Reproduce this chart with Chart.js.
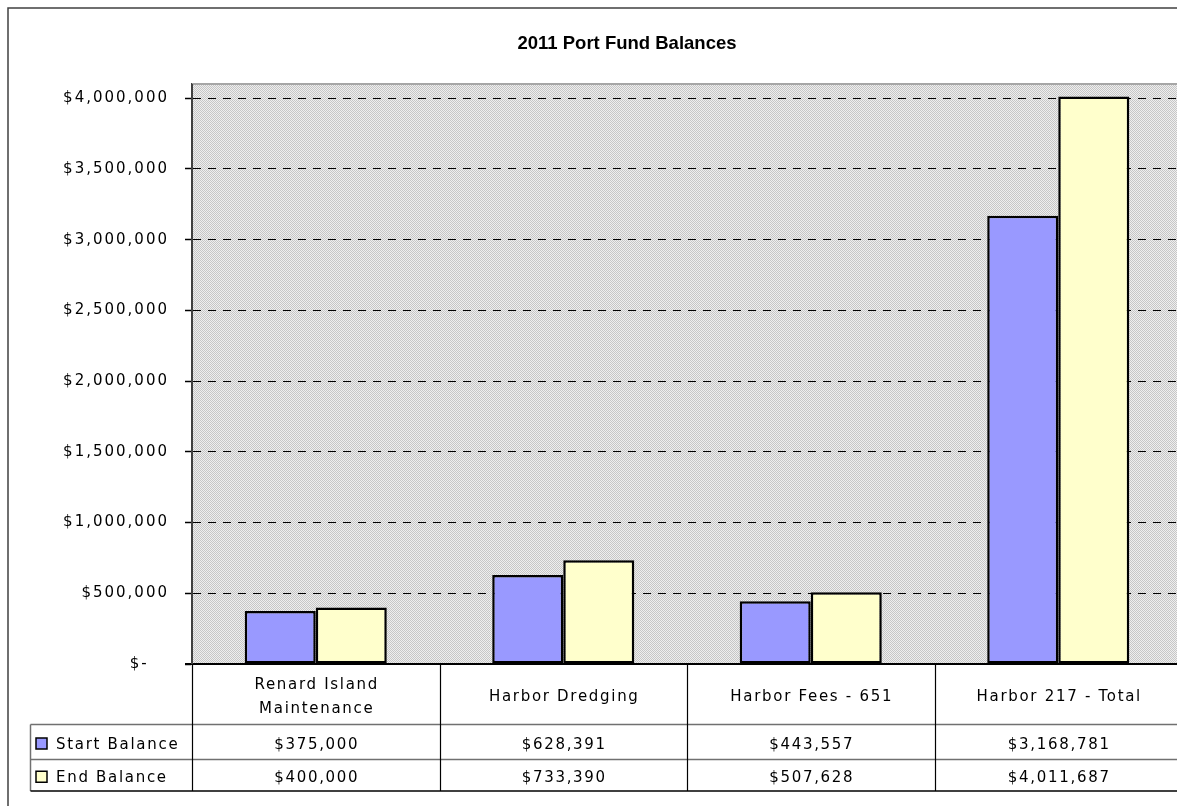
<!DOCTYPE html>
<html><head><meta charset="utf-8">
<script src="https://cdn.jsdelivr.net/npm/chart.js@4/dist/chart.umd.min.js"></script>
<style>
html,body{margin:0;padding:0;background:#fff;overflow:hidden;width:1177px;height:806px}
#wrap{position:absolute;left:0;top:0;width:1200px;height:806px}
</style>
</head><body><div id="wrap"><canvas id="c" width="1200" height="806"></canvas></div>
<script>
const chartTitle = '2011 Port Fund Balances';
const categories = [['Renard Island', 'Maintenance'], ['Harbor Dredging'], ['Harbor Fees - 651'], ['Harbor 217 - Total']];
const seriesNames = ['Start Balance', 'End Balance'];
const startBalance = [375000, 628391, 443557, 3168781];
const endBalance = [400000, 733390, 507628, 4011687];
const seriesColors = ['#9999FF', '#FFFFCC'];
const yTickValues = [0, 500000, 1000000, 1500000, 2000000, 2500000, 3000000, 3500000, 4000000];
const yMax = 4100000;

const FONT_FAMILY = '"DejaVu Sans"';
const FONT = '15px ' + FONT_FAMILY;
const money = v => '$' + Math.round(v).toLocaleString('en-US');

const patCanvas = (() => {
  const c = document.createElement('canvas'); c.width = 2; c.height = 2;
  const g = c.getContext('2d');
  g.fillStyle = '#eeeeee'; g.fillRect(0, 0, 2, 2);
  g.fillStyle = '#c6c6c6'; g.fillRect(0, 0, 1, 1); g.fillRect(1, 1, 1, 1);
  return c;
})();

const seriesData = [startBalance, endBalance];

const excelPlugin = {
  id: 'excel',
  beforeDraw(chart) {
    const { ctx, chartArea: a } = chart;
    ctx.save();
    ctx.fillStyle = ctx.createPattern(patCanvas, 'repeat');
    ctx.fillRect(a.left, a.top, a.right - a.left, a.bottom - a.top);
    ctx.restore();
    ctx.letterSpacing = '2px';
  },
  afterDraw(chart) {
    const { ctx, chartArea: a } = chart;
    const x = chart.scales.x;
    const n = categories.length;
    const step = x.getPixelForValue(1) - x.getPixelForValue(0);
    const bounds = [];
    for (let i = 0; i <= n; i++) bounds.push(x.getPixelForValue(0) - step / 2 + i * step);
    const hdrB = a.bottom + 60.5, r1B = a.bottom + 95.5, r2B = a.bottom + 127;
    const legL = 30.5;
    ctx.save();
    ctx.letterSpacing = '0px';
    // plot top border
    ctx.strokeStyle = '#a6a6a6'; ctx.lineWidth = 2;
    ctx.beginPath(); ctx.moveTo(a.left, a.top); ctx.lineTo(a.right, a.top); ctx.stroke();
    // horizontal table lines
    ctx.lineWidth = 1.5; ctx.strokeStyle = '#707070';
    [hdrB, r1B].forEach(yy => { ctx.beginPath(); ctx.moveTo(legL, yy); ctx.lineTo(bounds[n] + 20, yy); ctx.stroke(); });
    ctx.beginPath(); ctx.moveTo(legL, hdrB); ctx.lineTo(legL, r2B); ctx.stroke();
    ctx.strokeStyle = '#000';
    ctx.beginPath(); ctx.moveTo(legL, r2B); ctx.lineTo(bounds[n] + 20, r2B); ctx.stroke();
    // vertical lines
    ctx.lineWidth = 1.2; ctx.strokeStyle = '#000';
    for (let i = 0; i <= n; i++) {
      const xx = Math.round(bounds[i]) + 0.5;
      ctx.beginPath(); ctx.moveTo(xx, a.bottom); ctx.lineTo(xx, r2B); ctx.stroke();
    }
    // axis line
    ctx.lineWidth = 2; ctx.strokeStyle = '#000';
    ctx.beginPath(); ctx.moveTo(a.left - 7, a.bottom); ctx.lineTo(a.right, a.bottom); ctx.stroke();
    ctx.strokeStyle = '#404040';
    ctx.beginPath(); ctx.moveTo(a.left, a.top); ctx.lineTo(a.left, a.bottom); ctx.stroke();

    // text
    ctx.letterSpacing = '1.7px';
    ctx.font = FONT; ctx.fillStyle = '#000'; ctx.textBaseline = 'middle'; ctx.textAlign = 'center';
    const hdrMid = (a.bottom + hdrB) / 2 + 2.5;
    categories.forEach((lines, i) => {
      const cx = (bounds[i] + bounds[i + 1]) / 2 + 1;
      const lh = 24;
      const y0 = hdrMid - (lines.length - 1) * lh / 2;
      lines.forEach((t, k) => ctx.fillText(t, cx, y0 + k * lh));
    });
    const rowMid = [(hdrB + r1B) / 2 + 3, (r1B + r2B) / 2 + 3];
    seriesData.forEach((vals, s) => {
      vals.forEach((v, i) => {
        const cx = (bounds[i] + bounds[i + 1]) / 2 + 1;
        ctx.fillText(money(v), cx, rowMid[s]);
      });
      // legend key
      ctx.save();
      ctx.fillStyle = seriesColors[s];
      ctx.strokeStyle = '#000'; ctx.lineWidth = 1.5;
      ctx.fillRect(36, rowMid[s] - 7, 11, 11);
      ctx.strokeRect(36, rowMid[s] - 7, 11, 11);
      ctx.restore();
      ctx.textAlign = 'left';
      ctx.fillText(seriesNames[s], 56, rowMid[s]);
      ctx.textAlign = 'center';
    });

    // outer chart border
    ctx.strokeStyle = '#404040'; ctx.lineWidth = 1.5;
    ctx.beginPath(); ctx.moveTo(8, 806); ctx.lineTo(8, 8); ctx.lineTo(1200, 8); ctx.stroke();

    // title
    ctx.letterSpacing = '0px';
    ctx.font = 'bold 18.5px "Liberation Sans", Arial, sans-serif';
    ctx.textAlign = 'center'; ctx.textBaseline = 'middle';
    ctx.fillText(chartTitle, 627, 44);
    ctx.restore();
    ctx.letterSpacing = '2px';
  }
};

new Chart(document.getElementById('c'), {
  type: 'bar',
  data: {
    labels: categories,
    datasets: seriesNames.map((name, s) => ({
      label: name,
      data: seriesData[s],
      backgroundColor: seriesColors[s],
      borderColor: '#000',
      borderWidth: 2.5,
      borderSkipped: false,
      categoryPercentage: 0.574,
      barPercentage: 1
    }))
  },
  options: {
    responsive: false,
    animation: false,
    devicePixelRatio: 1,
    layout: { padding: { top: 84, bottom: 142, left: 0, right: 18 } },
    plugins: { legend: { display: false }, title: { display: false }, tooltip: { enabled: false } },
    scales: {
      x: { display: false, offset: true },
      y: {
        min: 0, max: yMax,
        afterBuildTicks: s => { s.ticks = yTickValues.map(v => ({ value: v })); },
        afterFit: s => { s.width = 192; },
        ticks: {
          autoSkip: false,
          font: { family: 'DejaVu Sans', size: 15 },
          color: '#000',
          padding: 16,
          callback: v => (v === 0 ? '$-   ' : money(v))
        },
        grid: { color: '#000', tickColor: '#000', lineWidth: 1, tickLength: 7, tickWidth: 1.5 },
        border: { display: true, color: '#404040', width: 2, dash: [8, 7] }
      }
    }
  },
  plugins: [excelPlugin]
});
</script>
</body></html>
